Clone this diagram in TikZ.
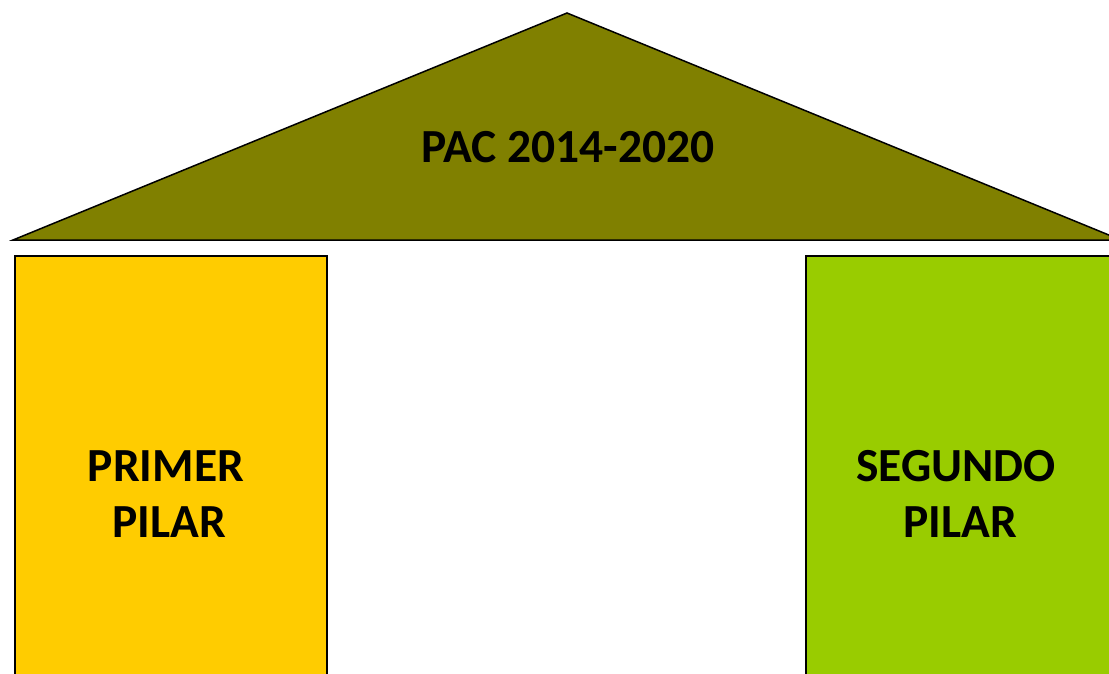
\documentclass[tikz,border=0pt]{standalone}
\usepackage{fontspec}
\setmainfont{Carlito}
\definecolor{roof}{HTML}{808000}
\definecolor{pyellow}{HTML}{FFCC00}
\definecolor{pgreen}{HTML}{99CC00}
\begin{document}
\begin{tikzpicture}[x=1pt,y=-1pt,
  outl/.style={draw=black,line width=1.5pt,line join=miter},
  lbl/.style={font=\fontsize{47.5}{56}\selectfont\bfseries,align=center,inner sep=0pt,text=black}]
\useasboundingbox (0,0) rectangle (1109,674);
\clip (0,0) rectangle (1109,674);
\filldraw[outl,fill=roof] (567,13) -- (1121,240) -- (13,240) -- cycle;
\filldraw[outl,fill=pyellow] (15,256) rectangle (327,700);
\filldraw[outl,fill=pgreen] (806,256) rectangle (1130,700);
\node[lbl,anchor=base] (pac) at (568,163) {PAC 2014-2020};
\node[lbl] (p1) at (166,494) {PRIMER\\\hspace*{6pt}PILAR};
\node[lbl] (p2) at (956,494) {SEGUNDO\\\hspace*{8pt}PILAR};
\end{tikzpicture}
\end{document}
